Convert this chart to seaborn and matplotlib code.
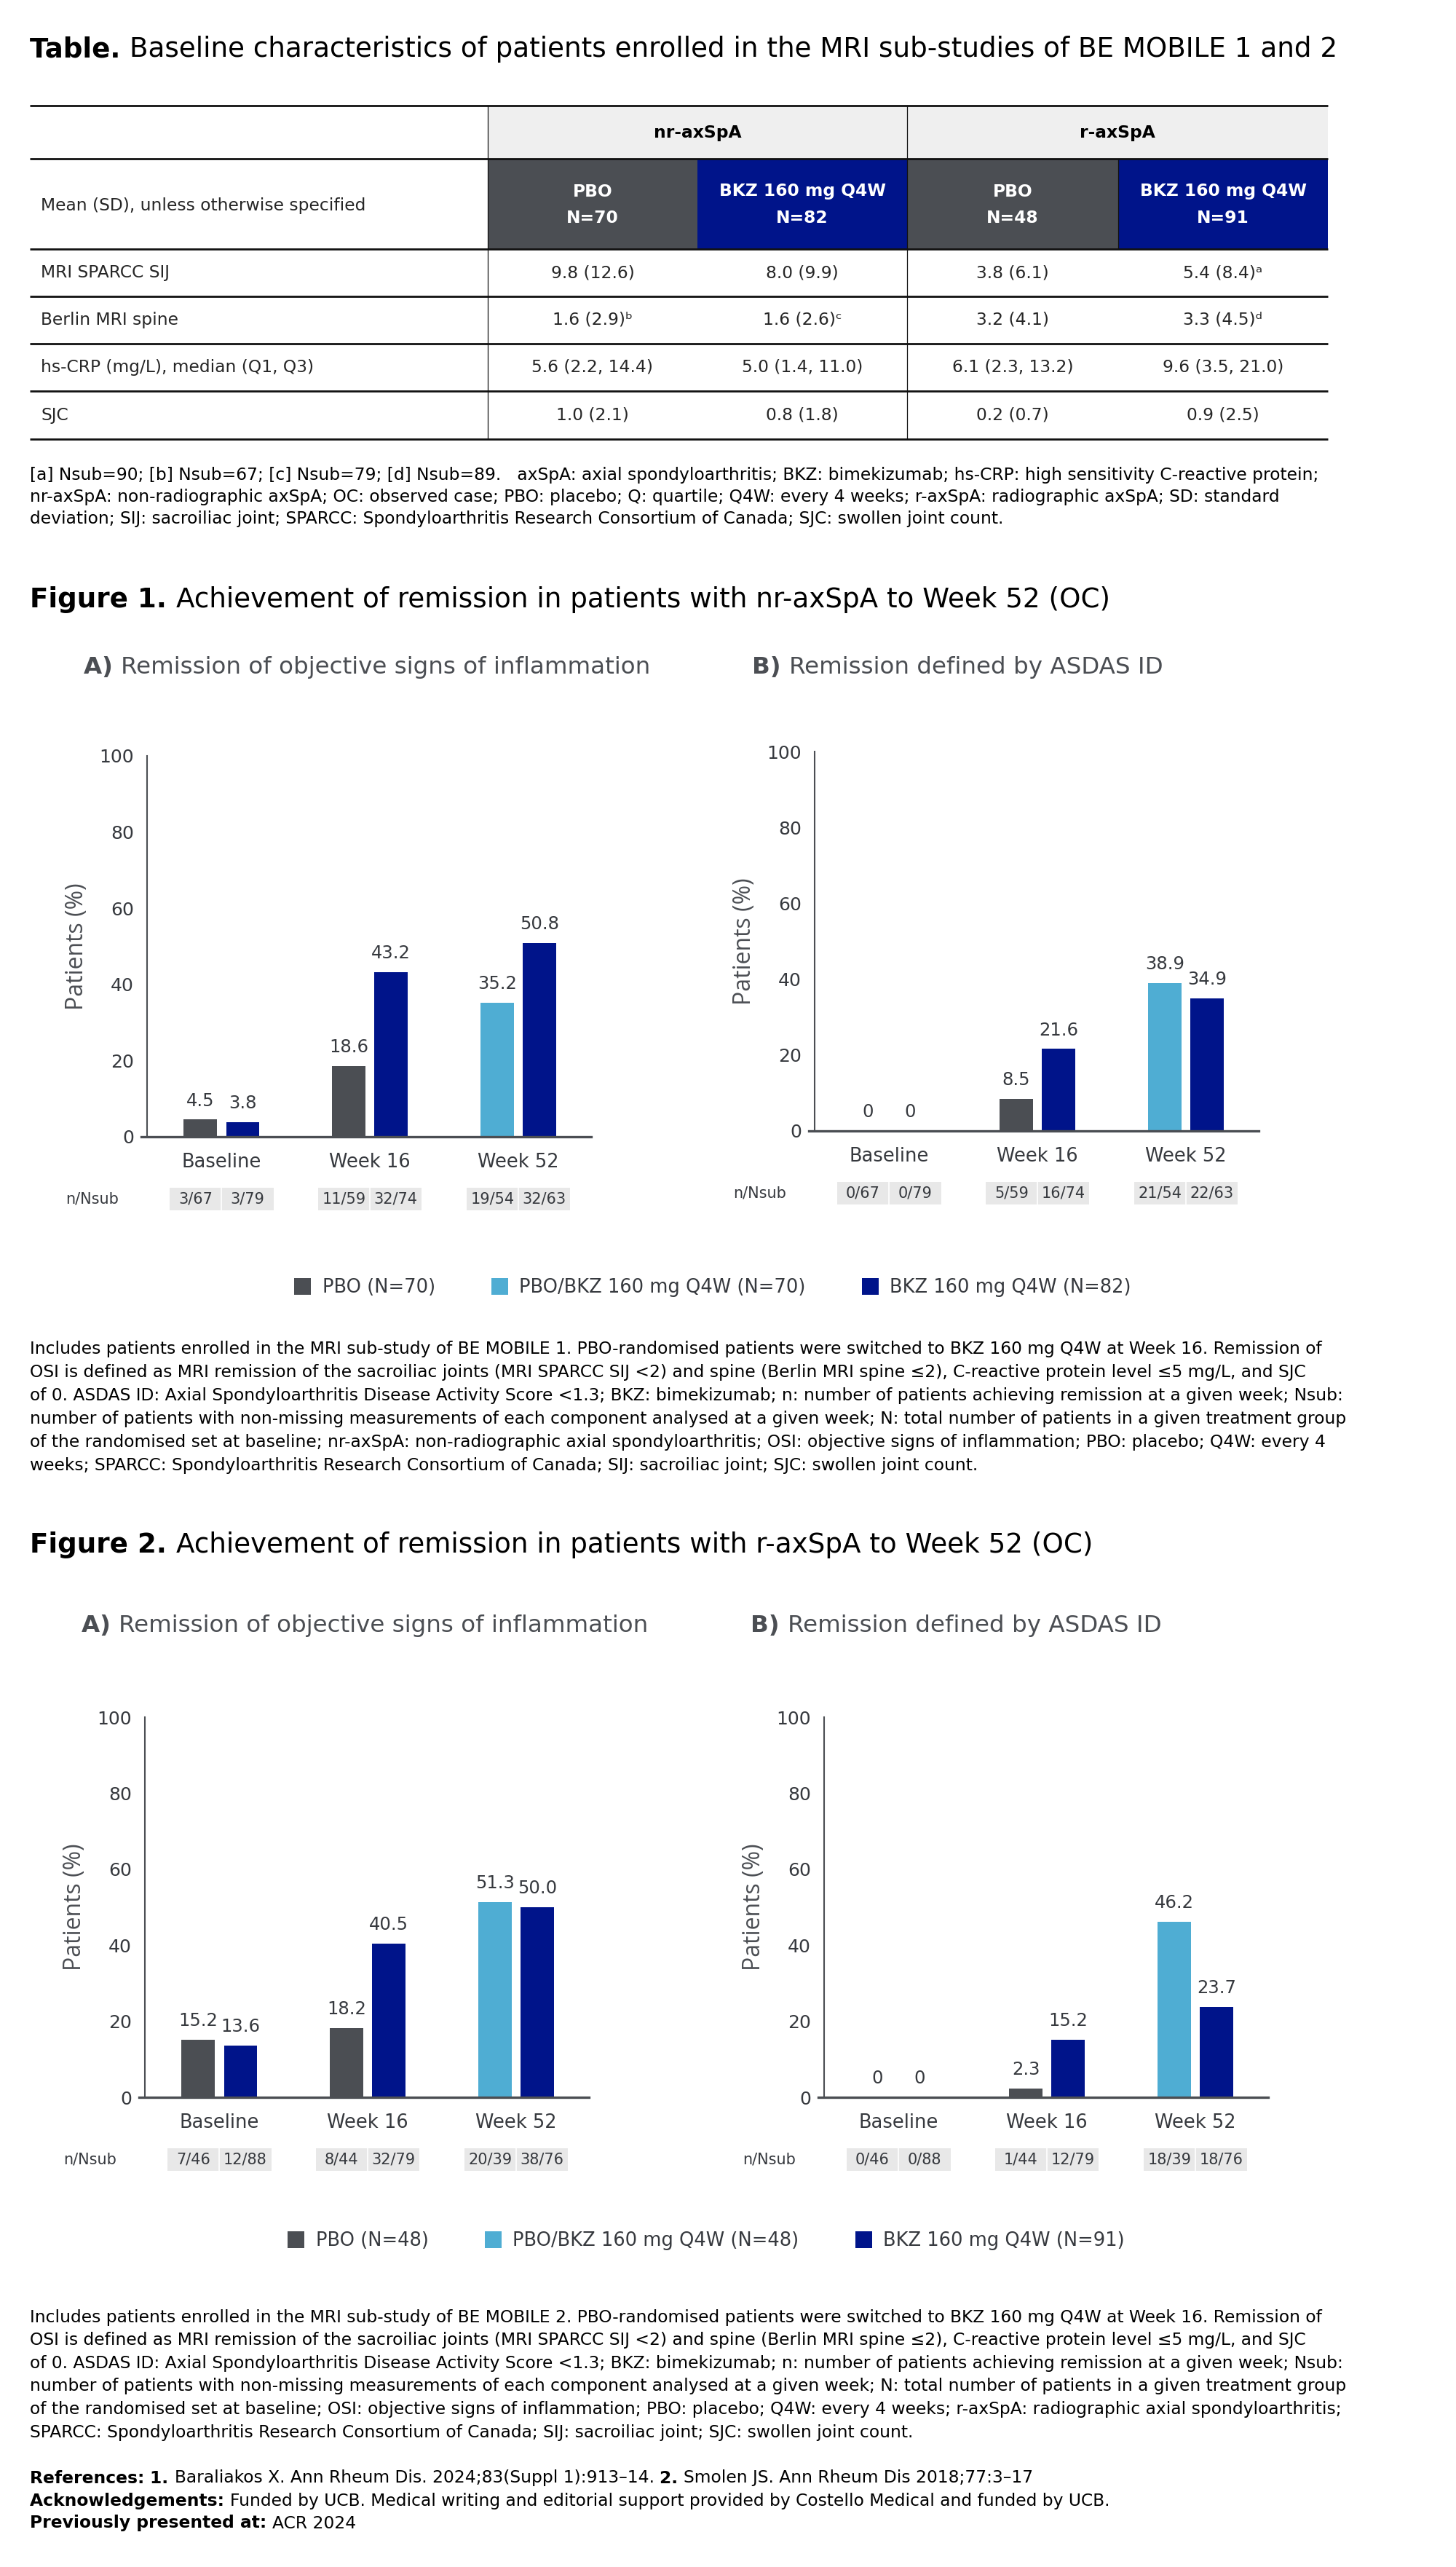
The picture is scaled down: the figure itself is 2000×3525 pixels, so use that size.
import matplotlib
matplotlib.use("Agg")
import matplotlib.pyplot as plt
from matplotlib.patches import Rectangle, Patch
import seaborn as sns
import pandas as pd

sns.set_style("white")
plt.rcParams["font.family"] = ["DejaVu Sans"]

W, H = 2000, 3525

PBO_GREY = "#4b4e53"
SWITCH_BLUE = "#4fadd3"
BKZ_NAVY = "#00148a"
TEXT_GREY = "#36393e"

TITLE_SIZE = 26.8
SUB_SIZE = 23.4
BODY_SIZE = 16.8

# ---------------- table data ----------------
table_groups = ["nr-axSpA", "r-axSpA"]
table_arms = ["PBO", "BKZ 160 mg Q4W", "PBO", "BKZ 160 mg Q4W"]
table_arm_n = ["N=70", "N=82", "N=48", "N=91"]
table_rows = ["MRI SPARCC SIJ", "Berlin MRI spine", "hs-CRP (mg/L), median (Q1, Q3)", "SJC"]
table_cells = [
    ["9.8 (12.6)", "8.0 (9.9)", "3.8 (6.1)", "5.4 (8.4)ᵃ"],
    ["1.6 (2.9)ᵇ", "1.6 (2.6)ᶜ", "3.2 (4.1)", "3.3 (4.5)ᵈ"],
    ["5.6 (2.2, 14.4)", "5.0 (1.4, 11.0)", "6.1 (2.3, 13.2)", "9.6 (3.5, 21.0)"],
    ["1.0 (2.1)", "0.8 (1.8)", "0.2 (0.7)", "0.9 (2.5)"],
]
table_note = [
    "[a] Nsub=90; [b] Nsub=67; [c] Nsub=79; [d] Nsub=89.   axSpA: axial spondyloarthritis; BKZ: bimekizumab; hs-CRP: high sensitivity C-reactive protein;",
    "nr-axSpA: non-radiographic axSpA; OC: observed case; PBO: placebo; Q: quartile; Q4W: every 4 weeks; r-axSpA: radiographic axSpA; SD: standard",
    "deviation; SIJ: sacroiliac joint; SPARCC: Spondyloarthritis Research Consortium of Canada; SJC: swollen joint count.",
]

# ---------------- chart data ----------------
timepoints = ["Baseline", "Week 16", "Week 52"]
left_groups = ["PBO", "PBO", "PBO/BKZ"]

fig1_osi_left = [4.5, 18.6, 35.2]
fig1_osi_right = [3.8, 43.2, 50.8]
fig1_osi_n_left = ["3/67", "11/59", "19/54"]
fig1_osi_n_right = ["3/79", "32/74", "32/63"]

fig1_asdas_left = [0, 8.5, 38.9]
fig1_asdas_right = [0, 21.6, 34.9]
fig1_asdas_n_left = ["0/67", "5/59", "21/54"]
fig1_asdas_n_right = ["0/79", "16/74", "22/63"]

fig2_osi_left = [15.2, 18.2, 51.3]
fig2_osi_right = [13.6, 40.5, 50.0]
fig2_osi_n_left = ["7/46", "8/44", "20/39"]
fig2_osi_n_right = ["12/88", "32/79", "38/76"]

fig2_asdas_left = [0, 2.3, 46.2]
fig2_asdas_right = [0, 15.2, 23.7]
fig2_asdas_n_left = ["0/46", "1/44", "18/39"]
fig2_asdas_n_right = ["0/88", "12/79", "18/76"]

fig1_legend = ["PBO (N=70)", "PBO/BKZ 160 mg Q4W (N=70)", "BKZ 160 mg Q4W (N=82)"]
fig2_legend = ["PBO (N=48)", "PBO/BKZ 160 mg Q4W (N=48)", "BKZ 160 mg Q4W (N=91)"]

group_colours = {"PBO": PBO_GREY, "PBO/BKZ": SWITCH_BLUE, "BKZ": BKZ_NAVY}

fig1_note = [
    "Includes patients enrolled in the MRI sub-study of BE MOBILE 1. PBO-randomised patients were switched to BKZ 160 mg Q4W at Week 16. Remission of",
    "OSI is defined as MRI remission of the sacroiliac joints (MRI SPARCC SIJ <2) and spine (Berlin MRI spine ≤2), C-reactive protein level ≤5 mg/L, and SJC",
    "of 0. ASDAS ID: Axial Spondyloarthritis Disease Activity Score <1.3; BKZ: bimekizumab; n: number of patients achieving remission at a given week; Nsub:",
    "number of patients with non-missing measurements of each component analysed at a given week; N: total number of patients in a given treatment group",
    "of the randomised set at baseline; nr-axSpA: non-radiographic axial spondyloarthritis; OSI: objective signs of inflammation; PBO: placebo; Q4W: every 4",
    "weeks; SPARCC: Spondyloarthritis Research Consortium of Canada; SIJ: sacroiliac joint; SJC: swollen joint count.",
]
fig2_note = [
    "Includes patients enrolled in the MRI sub-study of BE MOBILE 2. PBO-randomised patients were switched to BKZ 160 mg Q4W at Week 16. Remission of",
    "OSI is defined as MRI remission of the sacroiliac joints (MRI SPARCC SIJ <2) and spine (Berlin MRI spine ≤2), C-reactive protein level ≤5 mg/L, and SJC",
    "of 0. ASDAS ID: Axial Spondyloarthritis Disease Activity Score <1.3; BKZ: bimekizumab; n: number of patients achieving remission at a given week; Nsub:",
    "number of patients with non-missing measurements of each component analysed at a given week; N: total number of patients in a given treatment group",
    "of the randomised set at baseline; OSI: objective signs of inflammation; PBO: placebo; Q4W: every 4 weeks; r-axSpA: radiographic axial spondyloarthritis;",
    "SPARCC: Spondyloarthritis Research Consortium of Canada; SIJ: sacroiliac joint; SJC: swollen joint count.",
]
references = [
    [("References: ", "bold"), ("1. ", "bold"), ("Baraliakos X. Ann Rheum Dis. 2024;83(Suppl 1):913–14. ", "normal"),
     ("2. ", "bold"), ("Smolen JS. Ann Rheum Dis 2018;77:3–17", "normal")],
    [("Acknowledgements: ", "bold"),
     ("Funded by UCB. Medical writing and editorial support provided by Costello Medical and funded by UCB.", "normal")],
    [("Previously presented at: ", "bold"), ("ACR 2024", "normal")],
]

fig = plt.figure(figsize=(W / 100, H / 100), dpi=100)
page = fig.add_axes([0, 0, 1, 1])
page.set_xlim(0, W)
page.set_ylim(H, 0)
page.axis("off")
page.patch.set_alpha(0)
renderer = fig.canvas.get_renderer()


def px_box(x0, y0, x1, y1):
    return [x0 / W, 1 - y1 / H, (x1 - x0) / W, (y1 - y0) / H]


def text_width(s, size, weight):
    t = page.text(0, 0, s, fontsize=size, fontweight=weight)
    w = t.get_window_extent(renderer).width
    t.remove()
    return w


def rich_line(x, y, parts, size, color="black"):
    for txt, weight in parts:
        page.text(x, y, txt, fontsize=size, fontweight=weight, color=color, ha="left", va="center")
        x += text_width(txt.rstrip(), size, weight)
        n_sp = len(txt) - len(txt.rstrip())
        if n_sp:
            sp = text_width("a a", size, weight) - text_width("aa", size, weight)
            x += n_sp * sp


def note_block(lines, x, y0, step, size=BODY_SIZE):
    for i, line in enumerate(lines):
        page.text(x, y0 + i * step, line, fontsize=size, color="black", ha="left", va="center")


def fmt(v):
    return "0" if v == 0 else f"{v:.1f}"


# ---------------- table ----------------
rich_line(41, 68, [("Table. ", "bold"),
                   ("Baseline characteristics of patients enrolled in the MRI sub-studies of BE MOBILE 1 and 2", "normal")],
          TITLE_SIZE)

col_edges = [670, 958, 1246, 1536, 1824]
row_edges = [145, 218, 342, 407, 472, 537, 603]
page.add_patch(Rectangle((670, 145), 1824 - 670, 218 - 145, facecolor="#efefef", edgecolor="none"))
arm_colours = [PBO_GREY, BKZ_NAVY, PBO_GREY, BKZ_NAVY]
for i, c in enumerate(arm_colours):
    page.add_patch(Rectangle((col_edges[i], 218), col_edges[i + 1] - col_edges[i], 342 - 218,
                             facecolor=c, edgecolor="none"))
    cx = (col_edges[i] + col_edges[i + 1]) / 2
    page.text(cx, 263, table_arms[i], fontsize=BODY_SIZE, fontweight="bold", color="white", ha="center", va="center")
    page.text(cx, 300, table_arm_n[i], fontsize=BODY_SIZE, fontweight="bold", color="white", ha="center", va="center")
for g, name in enumerate(table_groups):
    cx = (col_edges[2 * g] + col_edges[2 * g + 2]) / 2
    page.text(cx, 182, name, fontsize=BODY_SIZE, fontweight="bold", color="black", ha="center", va="center")
page.text(56, 282, "Mean (SD), unless otherwise specified", fontsize=BODY_SIZE, ha="left", va="center")
for r, label in enumerate(table_rows):
    cy = (row_edges[r + 2] + row_edges[r + 3]) / 2
    page.text(56, cy, label, fontsize=BODY_SIZE, ha="left", va="center")
    for c, val in enumerate(table_cells[r]):
        cx = (col_edges[c] + col_edges[c + 1]) / 2
        page.text(cx, cy, val, fontsize=BODY_SIZE, ha="center", va="center")
for y in row_edges:
    page.plot([41, 1824], [y, y], color="#111111", lw=2.0, solid_capstyle="butt")
for x in [670, 1246]:
    page.plot([x, x], [145, 603], color="#111111", lw=0.9)
page.plot([1536, 1536], [218, 342], color="#111111", lw=0.9)

note_block(table_note, 41, 653, 30)


# ---------------- charts ----------------
def remission_panel(box, left_vals, right_vals, left_n, right_n):
    ax = fig.add_axes(px_box(*box))
    ax.patch.set_alpha(0)
    df = pd.DataFrame({
        "time": timepoints * 2,
        "slot": ["left"] * 3 + ["right"] * 3,
        "value": left_vals + right_vals,
    })
    sns.barplot(data=df, x="time", y="value", hue="slot", order=timepoints,
                hue_order=["left", "right"], palette=[PBO_GREY, BKZ_NAVY],
                width=0.57, gap=0.22, saturation=1, linewidth=0,
                errorbar=None, legend=False, ax=ax)
    for bar, grp in zip(ax.containers[0], left_groups):
        bar.set_facecolor(group_colours[grp])
    for cont, vals in zip(ax.containers, [left_vals, right_vals]):
        ax.bar_label(cont, labels=[fmt(v) for v in vals], padding=10, fontsize=17.5, color=TEXT_GREY)

    ax.set_xlim(-0.54, 2.49)
    ax.set_ylim(0, 100)
    ax.set_yticks(range(0, 101, 20))
    ax.spines[["top", "right"]].set_visible(False)
    ax.spines["left"].set_position(("data", -0.5))
    ax.spines["left"].set_color(PBO_GREY)
    ax.spines["left"].set_linewidth(1.5)
    ax.spines["bottom"].set_color(PBO_GREY)
    ax.spines["bottom"].set_linewidth(2.4)
    ax.tick_params(axis="y", length=7, width=1.3, color=PBO_GREY, labelsize=18, labelcolor=TEXT_GREY, pad=6)
    ax.tick_params(axis="x", length=0, labelsize=18.5, labelcolor=TEXT_GREY, pad=16)
    ax.set_xlabel("")
    ax.set_ylabel("Patients (%)", fontsize=23, family=["Open Sans", "DejaVu Sans"], color=PBO_GREY)
    ax.yaxis.set_label_coords(-0.117, 0.5)

    # n/Nsub row under the axis
    ax_h = box[3] - box[1]
    top = -70 / ax_h
    hgt = 31 / ax_h
    trans = ax.get_xaxis_transform()
    for i in range(len(timepoints)):
        ax.add_patch(Rectangle((i - 0.35, top - hgt), 0.7, hgt, transform=trans,
                               facecolor="#e8e8e8", edgecolor="none", clip_on=False))
        ax.plot([i, i], [top - hgt, top], transform=trans, color="white", lw=1.2, clip_on=False)
        ax.text(i - 0.175, top - hgt / 2, left_n[i], transform=trans, fontsize=15,
                color=TEXT_GREY, ha="center", va="center")
        ax.text(i + 0.175, top - hgt / 2, right_n[i], transform=trans, fontsize=15,
                color=TEXT_GREY, ha="center", va="center")
    ax.text(-0.87, top - hgt / 2, "n/Nsub", transform=trans, fontsize=15,
            color=TEXT_GREY, ha="center", va="center")
    return ax


def legend_row(labels, cx, cy):
    handles = [Patch(facecolor=c, edgecolor="none", label=l)
               for c, l in zip([PBO_GREY, SWITCH_BLUE, BKZ_NAVY], labels)]
    fig.legend(handles=handles, loc="center", bbox_to_anchor=(cx / W, 1 - cy / H), ncol=3,
               frameon=False, fontsize=18.5, handlelength=0.9, handleheight=1.05,
               handletextpad=0.6, columnspacing=3.0, labelcolor=TEXT_GREY)


# Figure 1
rich_line(41, 823, [("Figure 1. ", "bold"),
                    ("Achievement of remission in patients with nr-axSpA to Week 52 (OC)", "normal")], TITLE_SIZE)
rich_line(115, 917, [("A) ", "bold"), ("Remission of objective signs of inflammation", "normal")], SUB_SIZE, PBO_GREY)
rich_line(1033, 917, [("B) ", "bold"), ("Remission defined by ASDAS ID", "normal")], SUB_SIZE, PBO_GREY)
remission_panel((194, 1038, 812, 1561), fig1_osi_left, fig1_osi_right, fig1_osi_n_left, fig1_osi_n_right)
remission_panel((1111, 1032, 1729, 1553), fig1_asdas_left, fig1_asdas_right, fig1_asdas_n_left, fig1_asdas_n_right)
legend_row(fig1_legend, 979, 1768)
note_block(fig1_note, 41, 1853, 31.8)

# Figure 2
rich_line(41, 2122, [("Figure 2. ", "bold"),
                     ("Achievement of remission in patients with r-axSpA to Week 52 (OC)", "normal")], TITLE_SIZE)
rich_line(112, 2232, [("A) ", "bold"), ("Remission of objective signs of inflammation", "normal")], SUB_SIZE, PBO_GREY)
rich_line(1031, 2232, [("B) ", "bold"), ("Remission defined by ASDAS ID", "normal")], SUB_SIZE, PBO_GREY)
remission_panel((191, 2358, 809, 2880), fig2_osi_left, fig2_osi_right, fig2_osi_n_left, fig2_osi_n_right)
remission_panel((1124, 2358, 1742, 2880), fig2_asdas_left, fig2_asdas_right, fig2_asdas_n_left, fig2_asdas_n_right)
legend_row(fig2_legend, 970, 3077)
note_block(fig2_note, 41, 3182, 31.6)

for i, parts in enumerate(references):
    rich_line(41, 3403 + i * 31, parts, BODY_SIZE)

fig.savefig("out.png", dpi=100)
